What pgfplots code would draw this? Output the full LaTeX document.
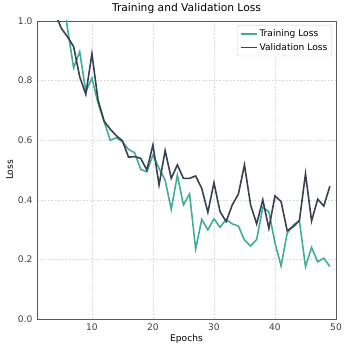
\documentclass[border=0pt]{standalone}
\usepackage{pgfplots}
\pgfplotsset{compat=1.18}
\usepackage{fontspec}
\setmainfont{DejaVu Sans}
\definecolor{trainc}{RGB}{66,172,152}
\definecolor{valc}{RGB}{55,65,81}
\begin{document}
\begin{tikzpicture}
\useasboundingbox (-37pt,-31pt) rectangle (313pt,319pt);
\begin{axis}[
  at={(0pt,0pt)}, anchor=south west,
  width=299pt, height=298pt, scale only axis,
  xmin=1, xmax=50, ymin=0, ymax=1,
  xtick={10,20,30,40,50}, ytick={0,0.2,0.4,0.6,0.8,1.0},
  /pgf/number format/assume math mode=true,
  yticklabel style={xshift=-1pt, /pgf/number format/.cd, fixed, fixed zerofill, precision=1},
  grid=major, grid style={dash pattern=on 2pt off 1.5pt, black!14, line width=0.5pt},
  axis line style={black!65, line width=0.8pt},
  major tick length=0pt,
  every tick label/.append style={font=\fontsize{9.1}{11}\selectfont, text=black!75},
  xticklabel style={yshift=-1pt},
  title={Training and Validation Loss},
  title style={font=\fontsize{10.7}{13}\selectfont, yshift=-2pt},
  xlabel={Epochs}, ylabel={Loss},
  label style={font=\fontsize{9.1}{11}\selectfont},
  xlabel style={yshift=3pt},
  ylabel style={yshift=-2pt},
  legend style={at={(rel axis cs:1,1)}, anchor=north east, xshift=-4pt, yshift=-4pt,
    draw=black!20, rounded corners=2pt, fill=white, fill opacity=0.8, text opacity=1,
    font=\fontsize{9.1}{11}\selectfont, row sep=1pt, inner sep=2.5pt},
  legend cell align=left,
  legend image code/.code={\draw[#1, line width=1.3pt] (0pt,0pt) -- (16pt,0pt);},
]
\addplot[trainc, line width=1.6pt] coordinates {
(1,2.0) (2,1.7) (3,1.45) (4,1.27) (5,1.12) (6,0.975) (7,0.843) (8,0.897) (9,0.763) (10,0.808)
(11,0.725) (12,0.662) (13,0.600) (14,0.608) (15,0.595) (16,0.569) (17,0.558) (18,0.502) (19,0.494) (20,0.55)
(21,0.506) (22,0.466) (23,0.368) (24,0.482) (25,0.383) (26,0.420) (27,0.235) (28,0.334) (29,0.299) (30,0.336)
(31,0.308) (32,0.334) (33,0.319) (34,0.312) (35,0.265) (36,0.245) (37,0.267) (38,0.375) (39,0.36) (40,0.255)
(41,0.178) (42,0.288) (43,0.315) (44,0.33) (45,0.176) (46,0.24) (47,0.192) (48,0.204) (49,0.176)
};
\addlegendentry{Training Loss}
\addplot[valc, line width=1.6pt] coordinates {
(1,1.6) (2,1.35) (3,1.15) (4,1.025) (5,0.975) (6,0.947) (7,0.914) (8,0.813) (9,0.754) (10,0.89)
(11,0.735) (12,0.664) (13,0.637) (14,0.615) (15,0.598) (16,0.543) (17,0.545) (18,0.539) (19,0.5) (20,0.584)
(21,0.45) (22,0.565) (23,0.472) (24,0.517) (25,0.472) (26,0.472) (27,0.48) (28,0.438) (29,0.358) (30,0.457)
(31,0.36) (32,0.327) (33,0.383) (34,0.419) (35,0.517) (36,0.383) (37,0.319) (38,0.4) (39,0.304) (40,0.413)
(41,0.394) (42,0.296) (43,0.31) (44,0.33) (45,0.487) (46,0.329) (47,0.402) (48,0.379) (49,0.446)
};
\addlegendentry{Validation Loss}
\end{axis}
\end{tikzpicture}
\end{document}
